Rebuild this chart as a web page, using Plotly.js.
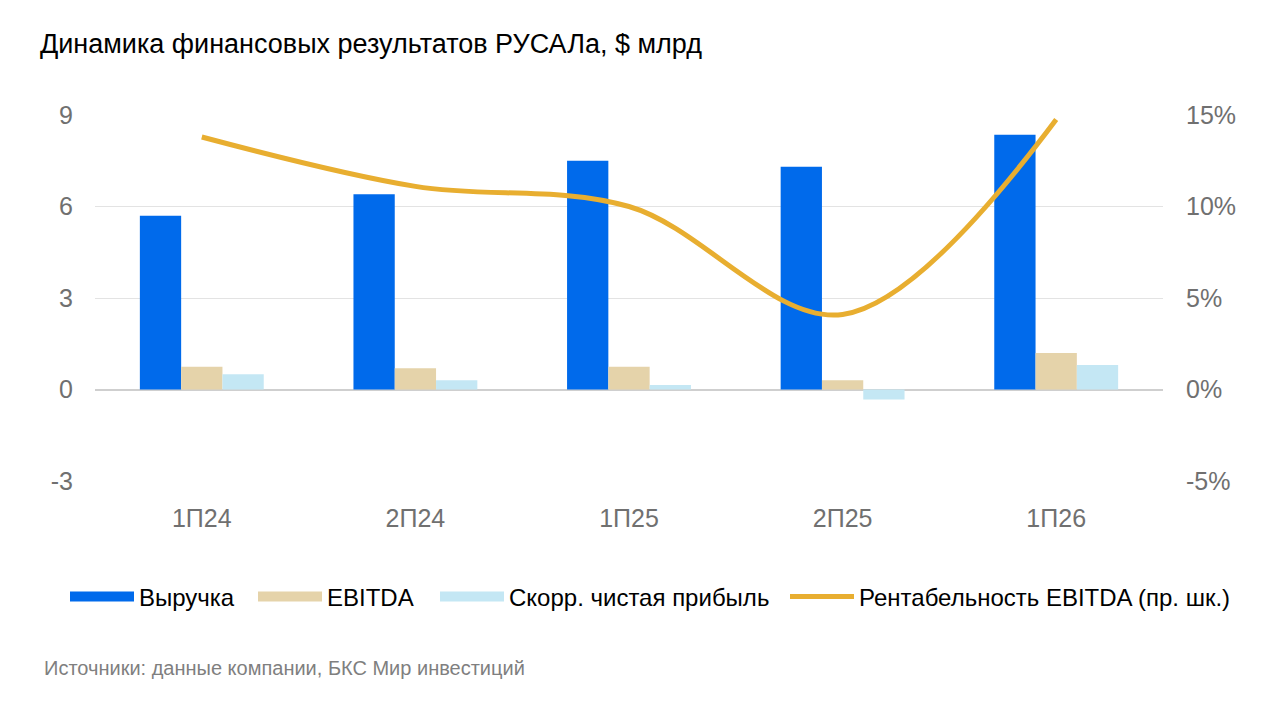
<!DOCTYPE html>
<html>
<head>
<meta charset="utf-8">
<script src="https://cdn.plot.ly/plotly-3.0.1.min.js"></script>
<style>
  html, body { margin: 0; padding: 0; background: #fff; }
  #chart { width: 1280px; height: 702px; }
</style>
</head>
<body>
<div id="chart"></div>
<script>
const periods = ['1П24', '2П24', '1П25', '2П25', '1П26'];
const revenue = [5.7, 6.4, 7.5, 7.3, 8.35];
const ebitda = [0.75, 0.7, 0.75, 0.3, 1.2];
const netProfit = [0.5, 0.3, 0.15, -0.33, 0.8];
const ebitdaMargin = [0.138, 0.111, 0.100, 0.041, 0.1475];

const leftTicks = [-3, 0, 3, 6, 9];
const leftTickText = ['-3', '0', '3', '6', '9'];
const rightTicks = [-0.05, 0, 0.05, 0.10, 0.15];
const rightTickText = ['-5%', '0%', '5%', '10%', '15%'];

const COLORS = {
  revenue: '#006AEB',
  ebitda: '#E5D3AA',
  netProfit: '#C4E7F4',
  margin: '#E8AE30'
};

const FONT = 'Liberation Sans, Arial, sans-serif';
const TICK_COLOR = '#707070';

// plot area in pixels: left 95, right 1163, top 115, bottom 481
const PLOT_L = 95, PLOT_W = 1068, PLOT_B = 481, PLOT_H = 366;

function barTrace(name, values, color) {
  return {
    x: periods,
    y: values,
    type: 'bar',
    name,
    marker: { color },
    showlegend: false,
    hoverinfo: 'x+y'
  };
}

// legend-only proxies so the swatches are wide bands as in the original
function legendProxy(name, color, width, legendId) {
  return {
    x: [null],
    y: [null],
    type: 'scatter',
    mode: 'lines',
    name,
    legend: legendId,
    line: { color, width },
    hoverinfo: 'skip'
  };
}

function legendAt(px) {
  return {
    orientation: 'h',
    x: (px - PLOT_L - 5) / PLOT_W,
    xanchor: 'left',
    y: (PLOT_B - 597) / PLOT_H,
    yanchor: 'middle',
    font: { family: FONT, size: 24, color: '#000000' },
    itemwidth: 64,
    bgcolor: 'rgba(0,0,0,0)'
  };
}

const traces = [
  barTrace('Выручка', revenue, COLORS.revenue),
  barTrace('EBITDA', ebitda, COLORS.ebitda),
  barTrace('Скорр. чистая прибыль', netProfit, COLORS.netProfit),
  {
    x: periods,
    y: ebitdaMargin,
    type: 'scatter',
    mode: 'lines',
    name: 'Рентабельность EBITDA (пр. шк.)',
    yaxis: 'y2',
    line: { color: COLORS.margin, width: 5, shape: 'spline', smoothing: 1 },
    showlegend: false
  },
  legendProxy('Выручка', COLORS.revenue, 12, 'legend'),
  legendProxy('EBITDA', COLORS.ebitda, 12, 'legend2'),
  legendProxy('Скорр. чистая прибыль', COLORS.netProfit, 12, 'legend3'),
  legendProxy('Рентабельность EBITDA (пр. шк.)', COLORS.margin, 5, 'legend4')
];

const layout = {
  width: 1280,
  height: 702,
  paper_bgcolor: '#ffffff',
  plot_bgcolor: '#ffffff',
  font: { family: FONT, color: TICK_COLOR, size: 24 },
  title: {
    text: 'Динамика финансовых результатов РУСАЛа, $ млрд',
    font: { family: FONT, size: 27, color: '#000000' },
    x: 40 / 1280,
    xanchor: 'left',
    y: 1 - 44 / 702,
    yanchor: 'middle'
  },
  margin: { l: 95, r: 117, t: 115, b: 221 },
  barmode: 'group',
  bargap: 0.42,
  bargroupgap: 0,
  xaxis: {
    type: 'category',
    tickfont: { size: 25, color: TICK_COLOR },
    ticklabelstandoff: 20,
    showgrid: false,
    ticks: '',
    showline: false
  },
  yaxis: {
    range: [-3, 9],
    tickmode: 'array',
    tickvals: leftTicks,
    ticktext: leftTickText,
    gridcolor: '#E3E3E3',
    gridwidth: 1,
    zeroline: true,
    zerolinecolor: '#CFCFCF',
    zerolinewidth: 2,
    tickfont: { size: 25, color: TICK_COLOR },
    ticklabelstandoff: 21,
    showline: false
  },
  yaxis2: {
    overlaying: 'y',
    side: 'right',
    range: [-0.05, 0.15],
    tickmode: 'array',
    tickvals: rightTicks,
    ticktext: rightTickText,
    showgrid: false,
    zeroline: false,
    tickfont: { size: 25, color: TICK_COLOR },
    ticklabelstandoff: 22,
    showline: false
  },
  legend: legendAt(70),
  legend2: legendAt(258),
  legend3: legendAt(440),
  legend4: legendAt(790),
  annotations: [{
    text: 'Источники: данные компании, БКС Мир инвестиций',
    xref: 'paper',
    yref: 'paper',
    x: (42 - PLOT_L) / PLOT_W,
    y: (PLOT_B - 668) / PLOT_H,
    xanchor: 'left',
    yanchor: 'middle',
    showarrow: false,
    font: { family: FONT, size: 20, color: '#7F7F7F' }
  }]
};

Plotly.newPlot('chart', traces, layout, { displayModeBar: false, staticPlot: true });
</script>
</body>
</html>
